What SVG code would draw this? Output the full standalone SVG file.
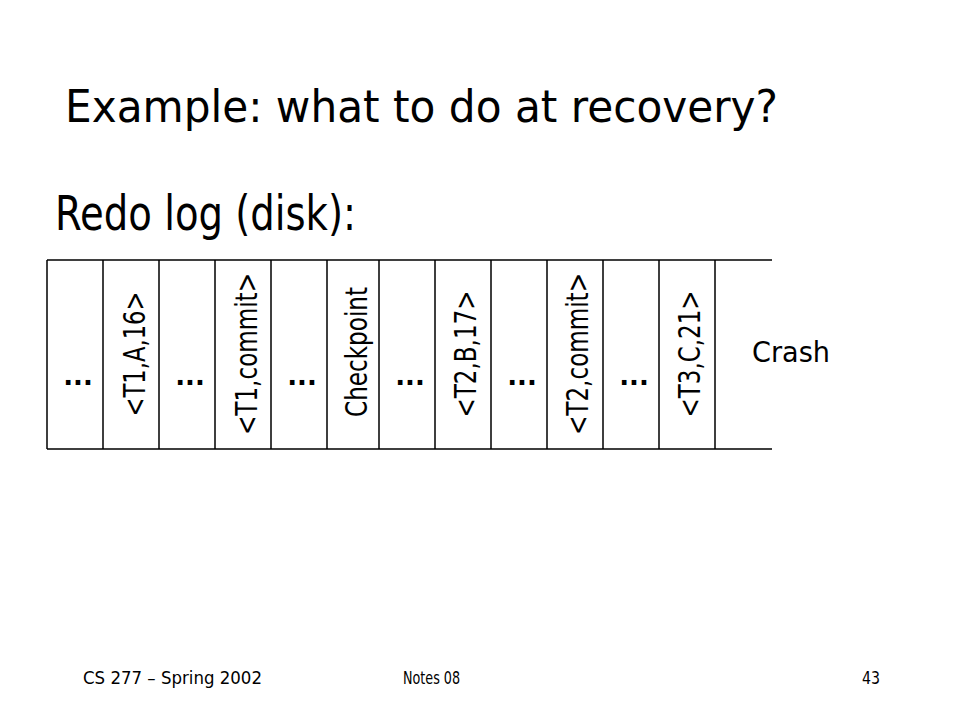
<svg xmlns="http://www.w3.org/2000/svg" width="960" height="720" viewBox="0 0 960 720">
<style>
text{font-family:"DejaVu Sans","Verdana",sans-serif;fill:#000}
.ln{stroke:#000;stroke-width:1.5;fill:none}
.dots{font-size:26px;font-weight:bold;text-anchor:middle}
.rot{font-size:30px;text-anchor:middle}
.foot{font-size:17px}
</style>
<rect width="960" height="720" fill="#fff"/>
<g id="title"><text x="65" y="122" font-size="45" textLength="713" lengthAdjust="spacingAndGlyphs">Example: what to do at recovery?</text></g>
<g id="subtitle"><text x="55" y="230" font-size="48" textLength="301" lengthAdjust="spacingAndGlyphs">Redo log (disk):</text></g>
<g id="connectors">
<path class="ln" d="M47,260H772M47,449H772M47,260V449M103,260V449M159,260V449M215,260V449M271,260V449M327,260V449M379,260V449M435,260V449M491,260V449M547,260V449M603,260V449M659,260V449M715,260V449"/>
</g>
<g id="cell1"><text class="dots" x="78" y="385">...</text></g>
<g id="cell2"><text class="rot" transform="translate(145,354) rotate(-90)" textLength="125" lengthAdjust="spacingAndGlyphs">&lt;T1,A,16&gt;</text></g>
<g id="cell3"><text class="dots" x="190" y="385">...</text></g>
<g id="cell4"><text class="rot" transform="translate(257,354) rotate(-90)" textLength="162" lengthAdjust="spacingAndGlyphs">&lt;T1,commit&gt;</text></g>
<g id="cell5"><text class="dots" x="302" y="385">...</text></g>
<g id="cell6"><text class="rot" transform="translate(367,352) rotate(-90)" textLength="130" lengthAdjust="spacingAndGlyphs">Checkpoint</text></g>
<g id="cell7"><text class="dots" x="410" y="385">...</text></g>
<g id="cell8"><text class="rot" transform="translate(476,354) rotate(-90)" textLength="127" lengthAdjust="spacingAndGlyphs">&lt;T2,B,17&gt;</text></g>
<g id="cell9"><text class="dots" x="522" y="385">...</text></g>
<g id="cell10"><text class="rot" transform="translate(588,354) rotate(-90)" textLength="162" lengthAdjust="spacingAndGlyphs">&lt;T2,commit&gt;</text></g>
<g id="cell11"><text class="dots" x="634" y="385">...</text></g>
<g id="cell12"><text class="rot" transform="translate(700,354) rotate(-90)" textLength="127" lengthAdjust="spacingAndGlyphs">&lt;T3,C,21&gt;</text></g>
<g id="crash"><text x="752" y="362" font-size="29" textLength="78" lengthAdjust="spacingAndGlyphs">Crash</text></g>
<g id="footer">
<text class="foot" x="83" y="684" textLength="179" lengthAdjust="spacingAndGlyphs">CS 277 – Spring 2002</text>
<text class="foot" x="403" y="684" textLength="57" lengthAdjust="spacingAndGlyphs">Notes 08</text>
<text class="foot" x="862" y="684" textLength="18" lengthAdjust="spacingAndGlyphs">43</text>
</g>
</svg>
